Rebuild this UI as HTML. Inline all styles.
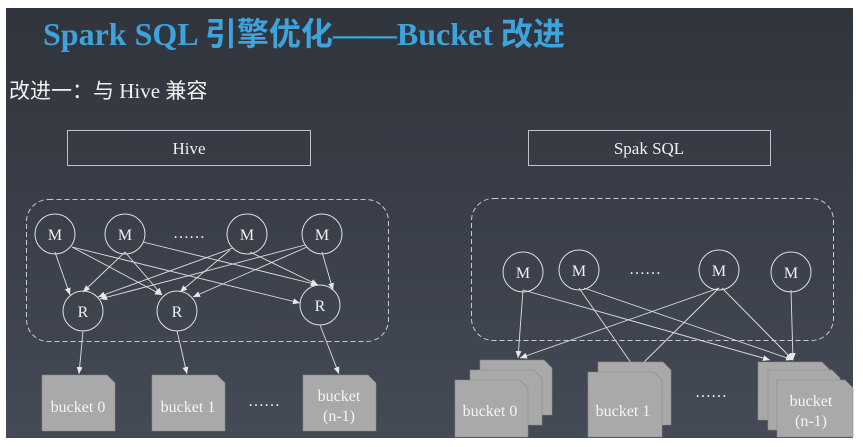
<!DOCTYPE html>
<html><head><meta charset="utf-8"><style>
html,body{margin:0;padding:0;background:#fff;width:863px;height:447px;overflow:hidden}
svg{display:block}
svg text{font-family:"Liberation Serif","Times New Roman",Times,"DejaVu Serif",serif}
svg .cjk{font-family:"Noto Sans CJK SC","WenQuanYi Zen Hei",sans-serif}
</style></head><body>
<svg width="863" height="447" xmlns="http://www.w3.org/2000/svg">
<defs>
<linearGradient id="bg" x1="0" y1="0" x2="0" y2="1"><stop offset="0" stop-color="#30343c"/><stop offset="1" stop-color="#444a56"/></linearGradient>
<marker id="a" markerWidth="8" markerHeight="8" refX="7" refY="3" orient="auto" markerUnits="userSpaceOnUse"><path d="M0,0 L7,3 L0,6z" fill="#e8e8e8"/></marker>
</defs>
<rect x="6" y="8" width="847" height="430" fill="url(#bg)"/>
<text x="43" y="45" font-size="32" font-weight="bold" fill="#3ea3dc">Spark SQL <tspan class="cjk">引擎优化</tspan>——Bucket <tspan class="cjk">改进</tspan></text>
<text x="9" y="98" font-size="21" fill="#f0f0f0"><tspan class="cjk">改进一：与</tspan> Hive <tspan class="cjk">兼容</tspan></text>
<g fill="none" stroke="#bfc2c8" stroke-width="1">
<rect x="67.5" y="130.5" width="243" height="35"/>
<rect x="528.5" y="130.5" width="242" height="35"/>
</g>
<g font-size="17" fill="#f0f0f0" text-anchor="middle">
<text x="189" y="154">Hive</text>
<text x="649" y="154">Spak SQL</text>
</g>
<g fill="none" stroke="#c8cad0" stroke-dasharray="5,3">
<rect x="26.5" y="199.5" width="362" height="142" rx="22"/>
<rect x="471.5" y="198.5" width="362" height="142" rx="22"/>
</g>
<g fill="none" stroke="#e0e0e0" stroke-width="1">
<circle cx="55" cy="234" r="20"/><circle cx="125" cy="234" r="20"/><circle cx="247" cy="234" r="20"/><circle cx="322" cy="234" r="20"/>
<circle cx="83" cy="311" r="20"/><circle cx="177" cy="311" r="20"/><circle cx="320" cy="305" r="20"/>
<circle cx="523" cy="272" r="20"/><circle cx="579" cy="270" r="20"/><circle cx="719" cy="270" r="20"/><circle cx="791" cy="272" r="20"/>
</g>
<g font-size="16" fill="#f0f0f0" text-anchor="middle">
<text x="55" y="240">M</text><text x="125" y="240">M</text><text x="189" y="238">……</text><text x="247" y="240">M</text><text x="322" y="240">M</text>
<text x="83" y="317">R</text><text x="177" y="317">R</text><text x="320" y="311">R</text>
<text x="523" y="278">M</text><text x="579" y="276">M</text><text x="645" y="274">……</text><text x="719" y="276">M</text><text x="791" y="278">M</text>
</g>
<g stroke="#e0e0e0" stroke-width="0.9" marker-end="url(#a)">
<line x1="55" y1="252" x2="70" y2="295"/>
<line x1="72" y1="247" x2="162" y2="295"/>
<line x1="72" y1="247" x2="300" y2="303"/>
<line x1="125" y1="252" x2="83" y2="292"/>
<line x1="125" y1="252" x2="162" y2="295"/>
<line x1="143" y1="242" x2="318" y2="285"/>
<line x1="233" y1="248" x2="98" y2="297"/>
<line x1="230" y1="250" x2="180" y2="292"/>
<line x1="250" y1="252" x2="318" y2="285"/>
<line x1="307" y1="247" x2="193" y2="297"/>
<line x1="305" y1="245" x2="100" y2="299"/>
<line x1="322" y1="252" x2="333" y2="290"/>
<line x1="83" y1="331" x2="79" y2="374"/>
<line x1="177" y1="331" x2="187" y2="374"/>
<line x1="320" y1="325" x2="339" y2="374"/>
<line x1="523" y1="290" x2="518" y2="358"/>
<line x1="523" y1="290" x2="770" y2="360"/>
<line x1="579" y1="288" x2="636" y2="370"/>
<line x1="584" y1="288" x2="793" y2="360"/>
<line x1="719" y1="288" x2="520" y2="358"/>
<line x1="719" y1="288" x2="636" y2="370"/>
<line x1="722" y1="288" x2="793" y2="360"/>
<line x1="791" y1="290" x2="793" y2="360"/>
</g>
<g fill="#a9a9a9" stroke="#8a8a8a" stroke-width="0.6">
<path d="M42,375 H107 L115,383 V431 H42z"/>
<path d="M152,375 H217 L225,383 V431 H152z"/>
<path d="M303,375 H368 L376,383 V431 H303z"/>
<path d="M480,360 H544 L552,368 V415 H480z"/>
<path d="M470,370 H534 L542,378 V425 H470z"/>
<path d="M455,380 H520 L528,388 V437 H455z"/>
<path d="M598,362 H663 L671,370 V425 H598z"/>
<path d="M588,372 H654 L662,380 V437 H588z"/>
<path d="M758,362 H822 L830,370 V420 H758z"/>
<path d="M768,370 H832 L840,378 V430 H768z"/>
<path d="M777,380 H845 L853,388 V437 H777z"/>
</g>
<g font-size="16" fill="#f4f4f4" text-anchor="middle">
<text x="78" y="412">bucket 0</text>
<text x="188" y="412">bucket 1</text>
<text x="339" y="401">bucket</text><text x="339" y="421">(n-1)</text>
<text x="264" y="406">……</text>
<text x="490" y="416">bucket 0</text>
<text x="623" y="416">bucket 1</text>
<text x="711" y="397">……</text>
<text x="811" y="406">bucket</text><text x="811" y="426">(n-1)</text>
</g>
</svg>
</body></html>
